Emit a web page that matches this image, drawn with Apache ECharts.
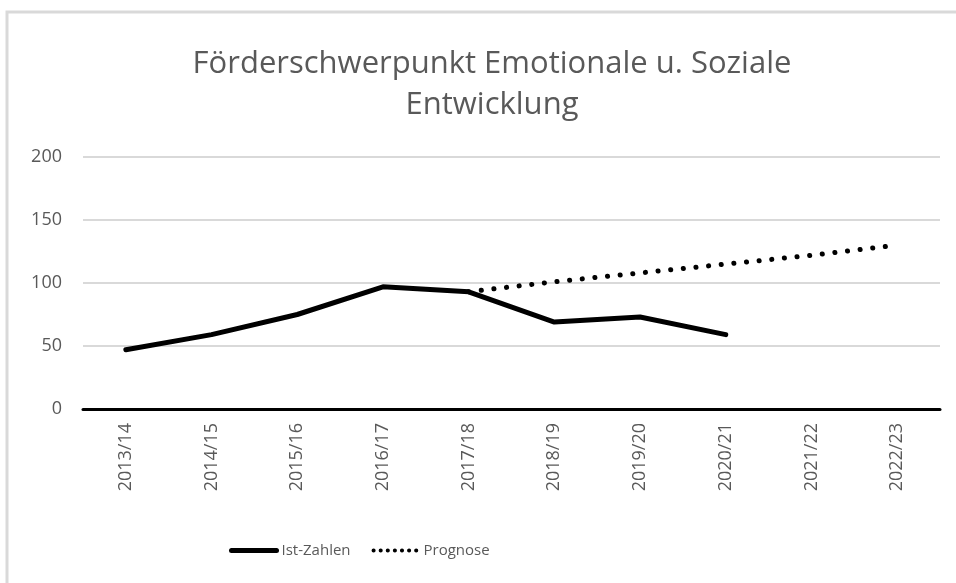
<!DOCTYPE html>
<html>
<head>
<meta charset="utf-8">
<script src="https://cdn.jsdelivr.net/npm/echarts@6/dist/echarts.min.js"></script>
<style>
  html, body { margin: 0; padding: 0; background: #fff; }
  #chart { width: 956px; height: 583px; }
</style>
</head>
<body>
<div id="chart"></div>
<script>
// Schuljahre (x-Achse)
const years = ['2013/14', '2014/15', '2015/16', '2016/17', '2017/18', '2018/19', '2019/20', '2020/21', '2021/22', '2022/23']
// tatsächliche Zahlen
const istZahlen = [47, 59, 75, 97, 93, 69, 73, 59, null, null]
// Prognose ab 2017/18
const prognose = [null, null, null, null, 93, 101, 108, 115, 122, 130]
const yTicks = [0, 50, 100, 150, 200]

const textColor = '#595959'
const fontFam = '"Open Sans", sans-serif'

const chart = echarts.init(document.getElementById('chart'))
chart.setOption({
  backgroundColor: '#fff',
  animation: false,
  title: {
    text: 'Förderschwerpunkt Emotionale u. Soziale\nEntwicklung',
    left: 487,
    top: 39,
    textAlign: 'center',
    textStyle: {
      color: textColor,
      fontFamily: fontFam,
      fontWeight: 'normal',
      fontSize: 31,
      lineHeight: 41
    }
  },
  graphic: [{
    type: 'rect',
    shape: { x: 7, y: 12, width: 970, height: 590 },
    style: { fill: null, stroke: '#d9d9d9', lineWidth: 3 },
    silent: true
  }],
  legend: {
    bottom: 20,
    left: 224,
    itemWidth: 45,
    itemHeight: 14,
    itemGap: 21,
    itemStyle: { opacity: 0 },
    textStyle: { color: textColor, fontFamily: fontFam, fontSize: 15 },
    data: [
      { name: 'Ist-Zahlen', lineStyle: { width: 5 } },
      { name: 'Prognose', lineStyle: { width: 4, type: [0.1, 7], cap: 'round' } }
    ]
  },
  grid: { left: 83, right: 16, top: 157, bottom: 174 },
  xAxis: {
    type: 'category',
    data: years,
    boundaryGap: true,
    axisLine: { lineStyle: { color: '#000', width: 3 } },
    axisTick: { show: false },
    axisLabel: {
      rotate: 90,
      margin: 14,
      color: textColor,
      fontFamily: fontFam,
      fontSize: 18
    }
  },
  yAxis: {
    type: 'value',
    min: yTicks[0],
    max: yTicks[yTicks.length - 1],
    interval: 50,
    axisLine: { show: false },
    axisTick: { show: false },
    axisLabel: { margin: 21, color: textColor, fontFamily: fontFam, fontSize: 18 },
    splitLine: { lineStyle: { color: '#d9d9d9', width: 2 } }
  },
  series: [
    {
      name: 'Ist-Zahlen',
      type: 'line',
      data: istZahlen,
      symbol: 'none',
      lineStyle: { color: '#000', width: 5, cap: 'round', join: 'round' },
      itemStyle: { color: '#000' }
    },
    {
      name: 'Prognose',
      type: 'line',
      data: prognose,
      symbol: 'none',
      lineStyle: { color: '#000', width: 5, type: [0.1, 12.6], cap: 'round' },
      itemStyle: { color: '#000' }
    }
  ]
})
</script>
</body>
</html>
